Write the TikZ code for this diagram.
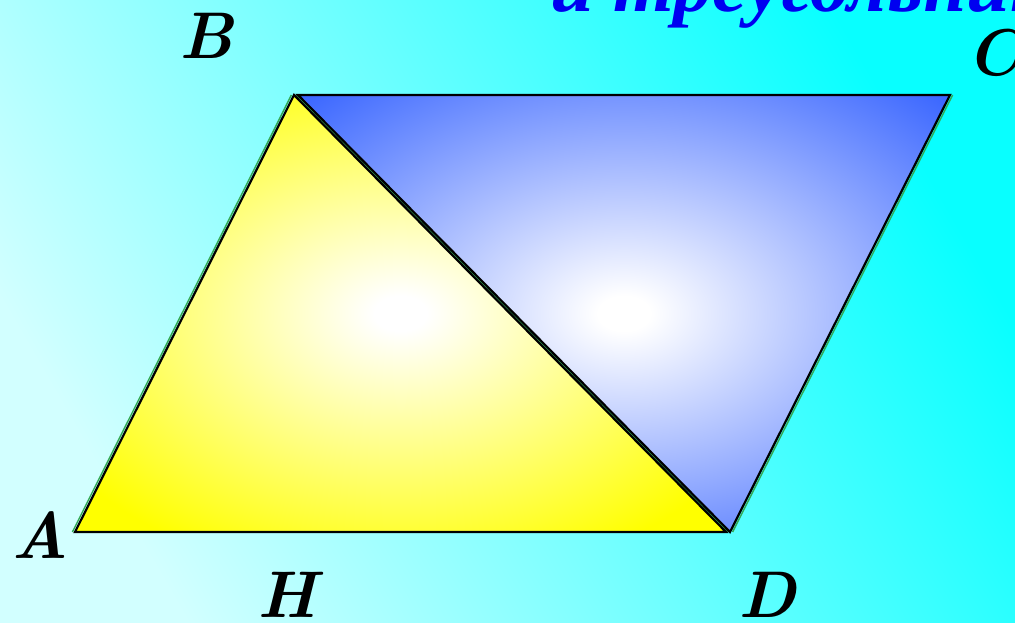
\documentclass[tikz,border=0pt]{standalone}
\usepackage{fontspec}
\newfontfamily\cyrfont{Liberation Serif}
\definecolor{bgpale}{HTML}{D2FFFF}
\definecolor{bgcyan}{HTML}{08FFFF}
\definecolor{triblue}{HTML}{3A66FF}
\definecolor{triyellow}{HTML}{FFFF00}
\definecolor{titleblue}{HTML}{0000F0}
\definecolor{edgegreen}{HTML}{33AA55}
\pgfdeclareradialshading{yellowglow}{\pgfpoint{0bp}{0bp}}{%
  color(0bp)=(white); color(2bp)=(white); color(31bp)=(triyellow); color(50bp)=(triyellow)}
\pgfdeclareradialshading{blueglow}{\pgfpoint{0bp}{0bp}}{%
  color(0bp)=(white); color(2bp)=(white); color(35bp)=(triblue); color(50bp)=(triblue)}
\tikzset{
  vlabel/.style={font=\fontsize{66}{66}\selectfont\bfseries\itshape, inner sep=0pt, text=black},
  triedge/.style={draw=black, line width=2.2pt, line join=miter},
  greenedge/.style={draw=edgegreen, line width=1.4pt}
}
\begin{document}
\begin{tikzpicture}[x=1pt,y=-1pt]
\useasboundingbox (0,0) rectangle (1015,622);
\clip (0,0) rectangle (1015,622);
\shade[left color=bgpale, right color=bgcyan, shading angle=120] (0,0) rectangle (1015,622);
% title (cut off at top)
\node[anchor=base west, inner sep=0pt, text=titleblue,
      font=\fontsize{78}{78}\selectfont\cyrfont\bfseries\itshape] (title) at (550,11) {и треугольник};
% vertices
\coordinate (A) at (75,532);
\coordinate (B1) at (294,95);
\coordinate (D1) at (726,532);
\coordinate (B2) at (298,95);
\coordinate (C) at (950,95);
\coordinate (D2) at (730,532);
% triangles
\shade[shading=yellowglow] (A) -- (B1) -- (D1) -- cycle;
\shade[shading=blueglow] (B2) -- (C) -- (D2) -- cycle;
% green underlying outline
\draw[greenedge] ([xshift=-2.6pt]A) -- ([xshift=-2.6pt]B1);
\draw[greenedge] ([xshift=2.6pt]C) -- ([xshift=2.6pt]D2);
\draw[greenedge] ([xshift=2pt]B1) -- ([xshift=2pt]D1);
% black outlines
\draw[triedge] (A) -- (B1) -- (D1) -- cycle;
\draw[triedge] (B2) -- (C) -- (D2) -- cycle;
% labels
\node[vlabel] (lB) at (206,36) {B};
\node[vlabel] (lC) at (994,53) {C};
\node[vlabel] (lA) at (40,535) {A};
\node[vlabel] (lH) at (287,595) {H};
\node[vlabel] (lD) at (767,595) {D};
\end{tikzpicture}
\end{document}
